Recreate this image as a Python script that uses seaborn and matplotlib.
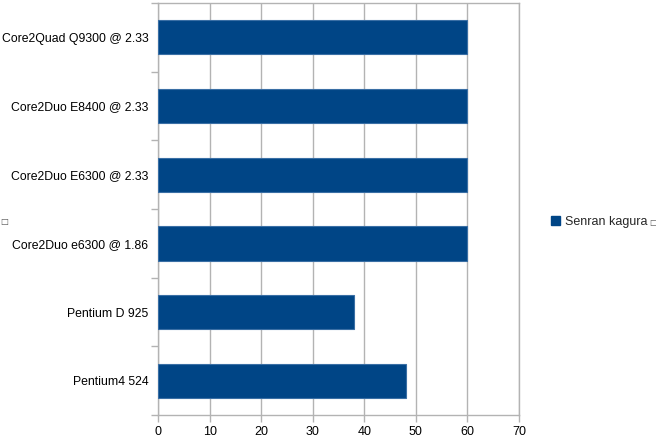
import matplotlib
matplotlib.use("Agg")
import matplotlib.pyplot as plt
import seaborn as sns
import pandas as pd
from matplotlib.patches import Patch
from matplotlib.ticker import FixedLocator

categories = ["Core2Quad Q9300 @ 2.33", "Core2Duo E8400 @ 2.33", "Core2Duo E6300 @ 2.33",
              "Core2Duo e6300 @ 1.86", "Pentium D 925", "Pentium4 524"]
values = [60, 60, 60, 60, 38, 48]
series_name = "Senran kagura"
x_ticks = [0, 10, 20, 30, 40, 50, 60, 70]

sns.set_theme(style="white")
plt.rcParams["font.family"] = ["Liberation Sans", "DejaVu Sans"]

df = pd.DataFrame({"cpu": categories, "score": values})

fig = plt.figure(figsize=(6.56, 4.44), dpi=100)
ax = fig.add_axes([158/656, 1-415/444, (519-158)/656, (415-3)/444])

color = "#004586"
sns.barplot(data=df, y="cpu", x="score", orient="h", color=color, width=0.5,
            edgecolor="#3a6fa5", linewidth=0.8, saturation=1, ax=ax, zorder=3)

ax.set_xlim(0, 70)
ax.set_ylim(len(categories) - 0.5, -0.5)
ax.set_xticks(x_ticks)
ax.set_xticklabels([str(t) for t in x_ticks], fontsize=9, color="#000000")
ax.tick_params(axis="y", which="major", labelsize=8.8, length=0, pad=7, labelcolor="#000000")
ax.yaxis.set_minor_locator(FixedLocator([i - 0.5 for i in range(len(categories) + 1)]))
ax.tick_params(axis="y", which="minor", left=True, length=5, color="#b3b3b3", width=1, direction="out")
ax.tick_params(axis="x", bottom=True, length=5, color="#b3b3b3", width=1, direction="out", pad=3)
ax.set_xlabel("")
ax.set_ylabel("")
ax.grid(axis="x", color="#b3b3b3", linewidth=1, zorder=0)
ax.set_axisbelow(True)
for s in ax.spines.values():
    s.set_color("#b3b3b3")
    s.set_linewidth(1)

handles = [Patch(facecolor=color, edgecolor=color, label=series_name)]
fig.legend(handles=handles, loc="center left", bbox_to_anchor=(546/656, 1-222/444),
           frameon=False, fontsize=9, handlelength=0.7, handleheight=0.7,
           handletextpad=0.4, borderaxespad=0)

fig.text(4/656, 1-221/444, "\u25a1", fontsize=6, ha="center", va="center",
         color="#555555", family=["DejaVu Sans"])
fig.text(653/656, 1-222/444, "\u25a1", fontsize=6, ha="center", va="center",
         color="#555555", family=["DejaVu Sans"])

fig.savefig("out.png", dpi=100, facecolor="white")
